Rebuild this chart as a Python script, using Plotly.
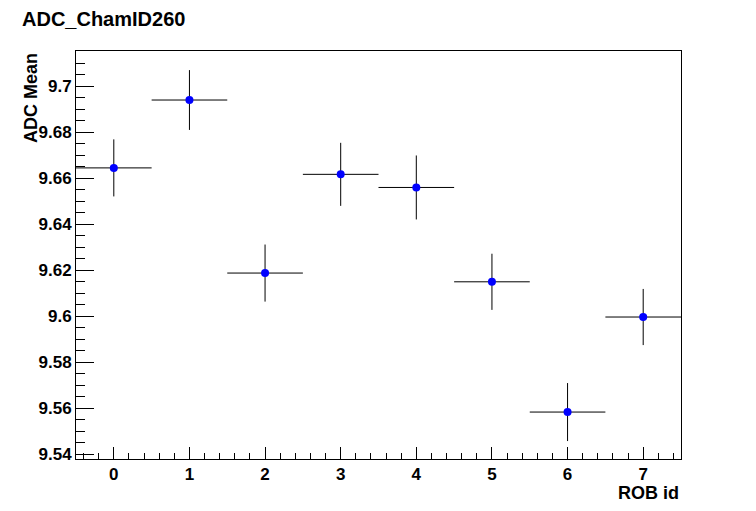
import plotly.graph_objects as go

rob_id = [0, 1, 2, 3, 4, 5, 6, 7]
adc_mean = [9.6645, 9.6940, 9.6188, 9.6617, 9.6560, 9.6150, 9.5584, 9.5997]
adc_err = [0.0124, 0.0130, 0.0124, 0.0137, 0.0139, 0.0122, 0.0126, 0.0122]
x_err = [0.5] * 8

FONT = "Liberation Sans, Arial, sans-serif"

# page body has an 8px margin, so the figure is 740x495 placed at (8, 8)
W, H = 740, 495
ML, MT, MR, MB = 68, 43, 67, 44
PW, PH = W - ML - MR, H - MT - MB

fig = go.Figure()
fig.add_trace(go.Scatter(
    x=rob_id, y=adc_mean, mode="markers",
    marker=dict(color="#0000ff", size=8, symbol="circle"),
    error_y=dict(type="data", array=adc_err, color="black", thickness=1, width=0),
    error_x=dict(type="data", array=x_err, color="black", thickness=1, width=0),
    showlegend=False,
))

fig.update_layout(
    width=W, height=H,
    paper_bgcolor="white", plot_bgcolor="white",
    margin=dict(l=ML, r=MR, t=MT, b=MB),
    font=dict(family=FONT, color="black"),
    title=dict(text="<b>ADC_ChamID260</b>", x=14 / W, xanchor="left", y=1 - 4 / H, yanchor="top",
               pad=dict(t=0, b=0, l=0, r=0),
               font=dict(size=20, family=FONT, color="black")),
    annotations=[
        dict(text="<b>ADC Mean</b>", xref="paper", yref="paper", x=(23 - ML) / PW, y=1.0,
             xanchor="center", yanchor="top", textangle=-90, showarrow=False,
             font=dict(size=18, family=FONT, color="black")),
        dict(text="<b>ROB id</b>", xref="paper", yref="paper", x=1.0, y=-(485 - (H - MB)) / PH,
             xanchor="right", yanchor="middle", showarrow=False,
             font=dict(size=18, family=FONT, color="black")),
    ],
)

fig.update_xaxes(
    range=[-0.5, 7.5], tickmode="linear", tick0=0, dtick=1,
    ticks="inside", ticklen=12, tickwidth=1, tickcolor="black",
    minor=dict(ticks="inside", ticklen=6, dtick=0.2, tick0=0, tickcolor="black", tickwidth=1),
    showline=True, linecolor="black", linewidth=1, mirror=True,
    showgrid=False, zeroline=False,
    tickfont=dict(size=17, family=FONT, color="black", weight="bold"),
)
fig.update_yaxes(
    range=[9.538, 9.7153], tickmode="linear", tick0=9.54, dtick=0.02,
    ticks="inside", ticklen=18, tickwidth=1, tickcolor="black",
    minor=dict(ticks="inside", ticklen=9, dtick=0.005, tick0=9.54, tickcolor="black", tickwidth=1),
    showline=True, linecolor="black", linewidth=1, mirror=True,
    showgrid=False, zeroline=False,
    tickfont=dict(size=17, family=FONT, color="black", weight="bold"),
    tickformat="~r",
)

fig.write_html("out.html")
